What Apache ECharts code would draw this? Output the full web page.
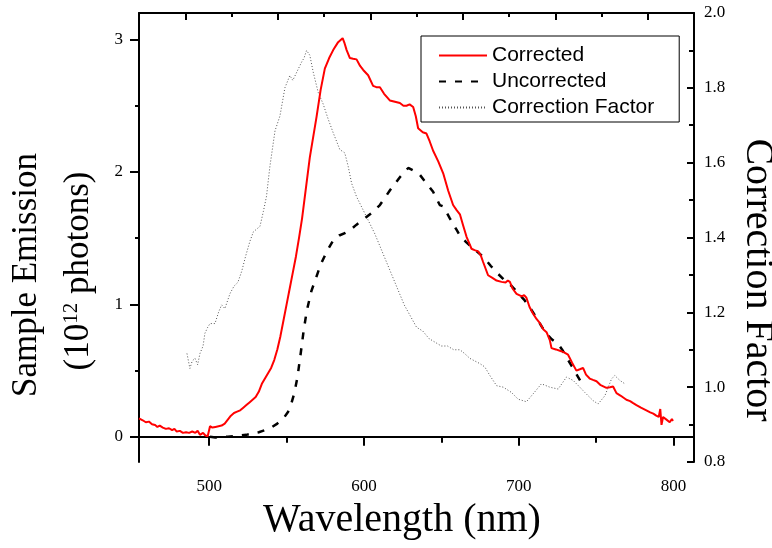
<!DOCTYPE html>
<html>
<head>
<meta charset="utf-8">
<script src="https://cdn.jsdelivr.net/npm/echarts@6/dist/echarts.min.js"></script>
<style>
  html, body { margin: 0; padding: 0; background: #fff; }
  #main { width: 772px; height: 548px; }
</style>
</head>
<body>
<div id="main"></div>
<script>
// wavelength (nm), sample emission (10^12 photons)
var corrected = [
  [454.6,0.14],[457,0.125],[459,0.11],[461,0.115],[463,0.095],[465,0.09],[466.5,0.075],[468,0.085],[470,0.07],[472,0.06],
  [474,0.065],[476,0.05],[477.5,0.06],[479,0.04],[481,0.045],[483,0.03],[485,0.035],[487,0.03],[489,0.04],[491,0.03],
  [492.5,0.045],[494,0.015],[496,0.03],[497.5,0.01],[499,0.005],[500,0.015],[500.5,0.08],[502,0.07],[504,0.075],[506,0.08],
  [508,0.085],[510,0.1],[512,0.13],[514,0.16],[516,0.18],[518,0.19],[520,0.2],[522,0.22],[524,0.24],[526,0.26],
  [528,0.28],[530,0.3],[532,0.34],[534,0.4],[536,0.44],[538,0.48],[540,0.52],[542,0.58],[544,0.66],[546,0.76],
  [548,0.88],[550,1.0],[552,1.12],[554,1.24],[556,1.36],[558,1.5],[560,1.65],[562.5,1.88],[565,2.11],[569.4,2.42],
  [572,2.62],[574.7,2.78],[577.5,2.86],[580.1,2.92],[583.3,2.98],[586.2,3.01],[587.5,2.97],[588.8,2.92],[590.9,2.86],[593,2.855],
  [595.2,2.85],[597.5,2.8],[599.5,2.77],[602.7,2.73],[605.9,2.65],[608,2.64],[610.3,2.64],[613,2.59],[616.7,2.54],[620,2.53],
  [623.2,2.52],[625.5,2.5],[627.5,2.5],[629.5,2.51],[631.8,2.49],[633.5,2.42],[635,2.33],[638,2.3],[640.4,2.29],[642.5,2.23],
  [644.7,2.16],[648,2.08],[651.2,1.99],[654.4,1.86],[657.6,1.75],[660,1.71],[662,1.68],[664,1.6],[666.3,1.51],[669.5,1.42],
  [671.5,1.41],[673.8,1.4],[675.5,1.37],[677,1.32],[680.2,1.22],[683,1.2],[685.7,1.18],[688.9,1.17],[691.5,1.165],[693,1.18],
  [694.3,1.17],[696,1.12],[698.6,1.08],[702,1.06],[703.5,1.07],[705,1.05],[707,0.98],[709.3,0.93],[711.5,0.89],[713.6,0.86],
  [716,0.81],[718,0.79],[720.1,0.73],[721.2,0.67],[724,0.66],[726.6,0.65],[729,0.64],[731.9,0.62],[734.5,0.56],[737.3,0.5],
  [739.5,0.51],[741.6,0.52],[743.5,0.47],[745.9,0.44],[748,0.43],[750.3,0.42],[753,0.39],[756.7,0.37],[759,0.375],[761,0.38],
  [763.2,0.33],[766,0.31],[769.6,0.28],[772,0.27],[774,0.255],[776.1,0.24],[779,0.22],[782.5,0.2],[785,0.185],[787,0.175],
  [788.9,0.16],[790.5,0.15],[791.5,0.21],[792.3,0.09],[793.3,0.15],[795.5,0.13],[797.6,0.11],[799,0.135],[799.7,0.12]
];

var uncorrected = [
  [500.5,0.0],[504,-0.005],[508,0.0],[512,0.0],[516,0.005],[520,0.01],[524,0.015],[528,0.025],[532,0.035],[536,0.05],
  [540,0.07],[544,0.1],[548,0.14],[551,0.19],[553,0.25],[555,0.33],[557,0.45],[559,0.62],[561,0.8],[563,0.95],
  [566,1.1],[569,1.2],[572,1.3],[576,1.4],[580,1.48],[584,1.52],[588,1.54],[591,1.56],[595,1.6],[600.6,1.65],
  [605,1.69],[610.3,1.75],[616.7,1.86],[623.2,1.96],[628.6,2.03],[632,2.01],[636,1.98],[640,1.92],[644.7,1.85],[649,1.75],
  [651.2,1.74],[655.5,1.65],[660,1.56],[662,1.52],[666,1.47],[670,1.43],[674,1.39],[677,1.36],[682,1.29],[686.7,1.23],
  [691,1.18],[695.3,1.14],[700,1.08],[703.9,1.03],[707,0.98],[711.5,0.9],[715,0.83],[717.9,0.78],[721,0.74],[725.5,0.7],
  [728,0.66],[730.9,0.6],[734,0.54],[737,0.48],[740,0.42],[742.7,0.37]
];

// correction factor (right axis)
var factor = [
  [485.6,1.09],[487.5,1.05],[489,1.07],[490.8,1.077],[492.5,1.06],[494,1.09],[496,1.11],[497.2,1.144],[499,1.16],[500.5,1.17],
  [503.7,1.17],[506,1.2],[508,1.22],[510.1,1.21],[513.4,1.25],[516,1.27],[518.5,1.28],[521,1.31],[523.5,1.35],[526.3,1.39],
  [528.5,1.415],[532.8,1.43],[535,1.47],[537,1.51],[539.2,1.59],[542.5,1.685],[545.7,1.725],[548.9,1.8],[552.1,1.833],[554,1.82],
  [557.5,1.85],[559.7,1.869],[561.3,1.88],[562.9,1.9],[565,1.887],[567.2,1.842],[570.4,1.788],[573.6,1.757],[576.9,1.716],[580.1,1.68],
  [584.4,1.635],[587.6,1.626],[589.8,1.59],[592,1.545],[595.2,1.509],[600.6,1.464],[603.8,1.437],[607,1.41],[610,1.38],[614,1.34],
  [618,1.3],[622,1.26],[626,1.22],[630,1.19],[634,1.16],[638,1.15],[642,1.13],[646,1.12],[650,1.11],[654,1.11],
  [658,1.1],[662,1.1],[665,1.09],[668.4,1.077],[674.9,1.063],[678.1,1.054],[681.4,1.031],[685.7,1.004],[690,1.0],[695.3,0.986],
  [699.6,0.968],[705,0.961],[709.3,0.982],[714.7,1.009],[720.1,1.0],[725.5,0.995],[730.9,1.027],[735.2,1.018],[739.5,1.0],[742.7,0.986],
  [748.1,0.964],[751.3,0.955],[755.7,0.977],[760,1.022],[762.1,1.031],[765.4,1.018],[768.6,1.009]
];

var xLabels = [500, 600, 700, 800];
var xMinorTicks = [550, 650, 750];
var yLabels = [0, 1, 2, 3];
var yMinorTicks = [0.5, 1.5, 2.5];

var serif = 'Liberation Serif';
var sans = 'Liberation Sans';
var gridBox = { left: 139, right: 78, top: 13, bottom: 86, outerBoundsMode: 'none' };

var chart = echarts.init(document.getElementById('main'));

chart.setOption({
  animation: false,
  backgroundColor: '#fff',
  grid: [
    Object.assign({}, gridBox),
    Object.assign({}, gridBox)
  ],
  legend: {
    orient: 'vertical',
    left: 421,
    top: 36,
    padding: [9, 25, 4, 17],
    itemGap: 5,
    itemWidth: 48,
    itemHeight: 14,
    borderColor: '#000',
    borderWidth: 1,
    backgroundColor: '#fff',
    itemStyle: { opacity: 0 },
    textStyle: { fontFamily: sans, fontSize: 21, color: '#000' },
    data: ['Corrected', 'Uncorrected', 'Correction Factor']
  },
  xAxis: [
    {
      type: 'value', gridIndex: 0, position: 'bottom',
      min: 454.6, max: 813.3,
      axisLine: { show: true, lineStyle: { color: '#000', width: 2 } },
      axisTick: { show: true, length: 9, customValues: xLabels, lineStyle: { color: '#000', width: 2 } },
      axisLabel: { customValues: xLabels, margin: 16, fontFamily: serif, fontSize: 17, color: '#000' },
      splitLine: { show: false }
    },
    {
      // top frame with its own ticks
      type: 'value', gridIndex: 0, position: 'top',
      min: 0, max: 12, interval: 2,
      axisLine: { show: true, lineStyle: { color: '#000', width: 2 } },
      axisTick: { show: true, inside: true, length: 4, lineStyle: { color: '#000', width: 2 } },
      minorTick: { show: true, splitNumber: 2, length: 7, lineStyle: { color: '#000', width: 2 } },
      axisLabel: { show: false },
      splitLine: { show: false }
    },
    {
      // bottom minor ticks
      type: 'value', gridIndex: 1, position: 'bottom',
      min: 454.6, max: 813.3,
      axisLine: { show: false },
      axisTick: { show: true, length: 6, customValues: xMinorTicks, lineStyle: { color: '#000', width: 2 } },
      axisLabel: { show: false },
      splitLine: { show: false }
    }
  ],
  yAxis: [
    {
      type: 'value', gridIndex: 0, position: 'left',
      min: -0.19, max: 3.2,
      axisLine: { show: true, lineStyle: { color: '#000', width: 2 } },
      axisTick: { show: true, length: 9, customValues: yLabels, lineStyle: { color: '#000', width: 2 } },
      axisLabel: { customValues: yLabels, margin: 16, fontFamily: serif, fontSize: 17, color: '#000' },
      splitLine: { show: false }
    },
    {
      type: 'value', gridIndex: 0, position: 'right',
      min: 0.8, max: 2.0, interval: 0.2,
      axisLine: { show: true, lineStyle: { color: '#000', width: 2 } },
      axisTick: { show: true, inside: true, length: 7, lineStyle: { color: '#000', width: 2 } },
      minorTick: { show: true, splitNumber: 2, length: 5, lineStyle: { color: '#000', width: 2 } },
      axisLabel: {
        margin: 10, fontFamily: serif, fontSize: 17, color: '#000',
        formatter: function (v) { return v.toFixed(1); }
      },
      splitLine: { show: false }
    },
    {
      // left minor ticks
      type: 'value', gridIndex: 1, position: 'left',
      min: -0.19, max: 3.2,
      axisLine: { show: false },
      axisTick: { show: true, length: 4, customValues: yMinorTicks, lineStyle: { color: '#000', width: 2 } },
      axisLabel: { show: false },
      splitLine: { show: false }
    }
  ],
  series: [
    {
      name: 'Correction Factor', type: 'line', xAxisIndex: 0, yAxisIndex: 1,
      data: factor, symbol: 'none', z: 1,
      lineStyle: { color: '#555', width: 1, type: [1, 2] },
      itemStyle: { color: '#555' }
    },
    {
      name: 'Uncorrected', type: 'line', xAxisIndex: 0, yAxisIndex: 0,
      data: uncorrected, symbol: 'none', z: 2,
      lineStyle: { color: '#000', width: 2.5, type: [7, 9] },
      itemStyle: { color: '#000' }
    },
    {
      name: 'Corrected', type: 'line', xAxisIndex: 0, yAxisIndex: 0,
      data: corrected, symbol: 'none', z: 3,
      lineStyle: { color: '#ff0000', width: 2 },
      itemStyle: { color: '#ff0000' }
    }
  ],
  graphic: [
    {
      type: 'text', x: 402, y: 520,
      style: { text: 'Wavelength (nm)', font: '40px "Liberation Serif"', fill: '#000', align: 'center', verticalAlign: 'middle' }
    },
    {
      type: 'text', x: 27, y: 275, rotation: Math.PI / 2,
      style: { text: 'Sample Emission', font: '35px "Liberation Serif"', fill: '#000', align: 'center', verticalAlign: 'middle' }
    },
    {
      type: 'text', x: 79, y: 271, rotation: Math.PI / 2,
      style: {
        text: '(10{sup|12} photons)', font: '35px "Liberation Serif"', fill: '#000', align: 'center', verticalAlign: 'middle',
        rich: { sup: { fontFamily: serif, fontSize: 21, padding: [0, 0, 16, 0] } }
      }
    },
    {
      type: 'text', x: 757, y: 280, rotation: -Math.PI / 2,
      style: { text: 'Correction Factor', font: '40px "Liberation Serif"', fill: '#000', align: 'center', verticalAlign: 'middle' }
    }
  ]
});
</script>
</body>
</html>
